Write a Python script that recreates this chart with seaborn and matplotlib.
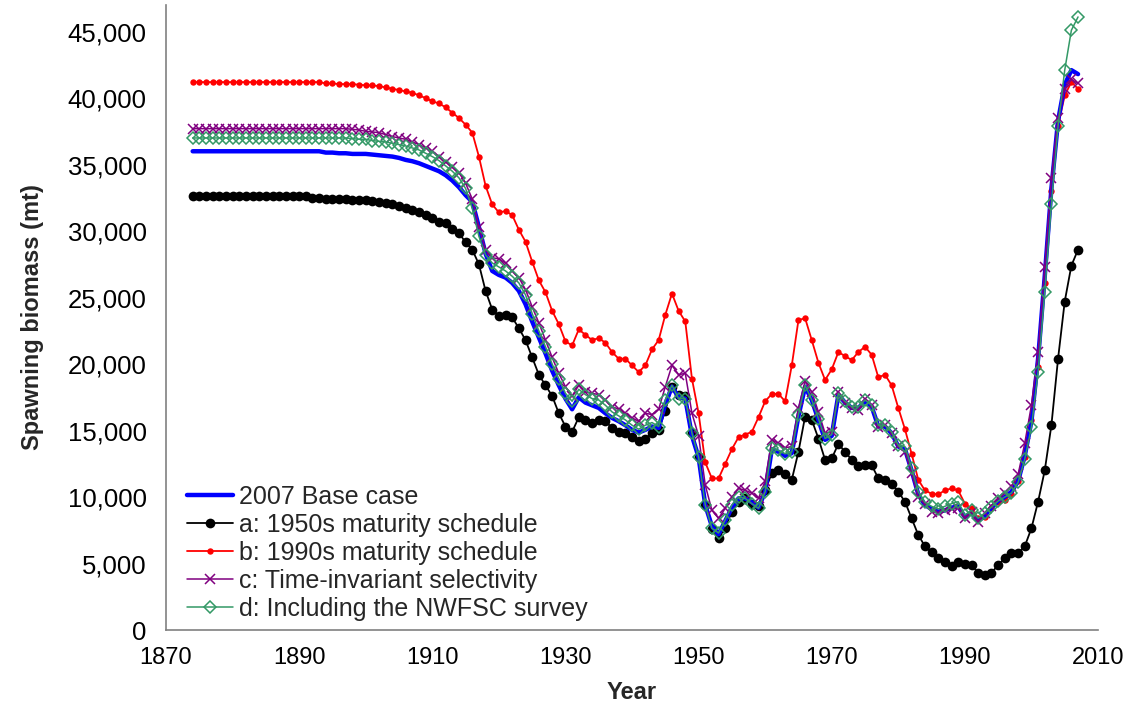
import matplotlib
matplotlib.use("Agg")
import matplotlib.pyplot as plt
import matplotlib.ticker as mticker
import seaborn as sns

# Spawning biomass by year, thousands of mt
years = list(range(1874, 2008))

base_case = (
    [36.0] * 20
    + [35.9, 35.9, 35.85, 35.85, 35.8, 35.8]
    + [35.8, 35.75, 35.7, 35.65, 35.6, 35.5, 35.35, 35.25, 35.1, 34.9,
       34.7, 34.5, 34.2, 33.8, 33.3, 32.7, 32.2, 30.3, 28.3, 27.0,
       26.7, 26.5, 26.1, 25.5, 24.5, 23.2, 22.0, 20.8, 19.5, 18.4,
       17.4, 16.6, 17.5, 17.1, 16.9, 16.7, 16.3, 15.95, 15.7, 15.4,
       15.05, 14.85, 15.05, 15.3, 15.2, 17.0, 18.3, 17.5, 17.4, 14.6,
       13.0, 9.4, 7.8, 7.2, 8.2, 9.2, 9.9, 9.9, 9.6, 9.2,
       10.4, 13.6, 13.4, 13.1, 13.3, 16.1, 18.3, 17.3, 15.8, 14.3,
       14.6, 17.7, 17.1, 16.7, 16.7, 17.2, 16.8, 15.3, 15.3, 14.8,
       13.8, 13.6, 12.0, 10.2, 9.4, 9.1, 8.9, 9.0, 9.2, 9.3,
       8.5, 8.8, 8.2, 8.6, 9.2, 9.7, 10.0, 10.4, 11.2, 13.1,
       15.7, 20.4, 26.6, 33.2, 38.3, 41.0, 42.1, 41.8]
)

mat_1950s = (
    [32.6] * 18
    + [32.45, 32.45, 32.4, 32.4, 32.4, 32.4, 32.35, 32.35]
    + [32.3, 32.25, 32.2, 32.1, 32.0, 31.9, 31.75, 31.6, 31.4, 31.2,
       31.0, 30.7, 30.6, 30.15, 29.85, 29.15, 28.6, 27.5, 25.5, 24.1,
       23.6, 23.7, 23.5, 22.7, 21.8, 20.5, 19.2, 18.4, 17.6, 16.3,
       15.3, 14.9, 16.0, 15.8, 15.6, 15.8, 15.7, 15.2, 14.9, 14.85,
       14.5, 14.2, 14.4, 14.8, 15.05, 16.5, 18.3, 17.7, 17.6, 14.8,
       13.0, 9.4, 7.6, 6.9, 7.7, 8.9, 9.65, 9.9, 9.5, 9.3,
       10.5, 11.8, 12.0, 11.7, 11.3, 13.4, 16.05, 15.8, 14.4, 12.8,
       12.9, 14.0, 13.4, 12.8, 12.3, 12.4, 12.4, 11.4, 11.3, 11.0,
       10.4, 9.65, 8.4, 7.15, 6.3, 5.85, 5.4, 5.1, 4.85, 5.15,
       5.0, 4.9, 4.3, 4.1, 4.3, 4.9, 5.4, 5.8, 5.8, 6.3,
       7.65, 9.65, 12.0, 15.4, 20.4, 24.7, 27.4, 28.6]
)

mat_1990s = (
    [41.2] * 20
    + [41.1, 41.1, 41.05, 41.05, 41.05, 41.0]
    + [40.96, 40.95, 40.9, 40.8, 40.7, 40.6, 40.5, 40.4, 40.2, 40.0,
       39.75, 39.6, 39.3, 38.9, 38.5, 38.0, 37.4, 35.6, 33.4, 32.0,
       31.4, 31.5, 31.2, 30.1, 29.2, 27.7, 26.3, 25.4, 24.0, 23.0,
       21.7, 21.4, 22.6, 22.2, 21.8, 21.95, 21.6, 20.9, 20.4, 20.4,
       19.9, 19.4, 19.9, 21.1, 21.8, 23.7, 25.3, 24.0, 23.2, 18.9,
       16.3, 12.6, 11.4, 11.4, 12.5, 13.6, 14.5, 14.7, 14.9, 16.0,
       17.2, 17.75, 17.75, 17.2, 19.9, 23.3, 23.45, 21.8, 20.1, 18.8,
       19.6, 20.9, 20.6, 20.3, 20.9, 21.3, 20.7, 19.0, 19.2, 18.4,
       16.7, 15.1, 13.25, 11.3, 10.5, 10.25, 10.2, 10.5, 10.65, 10.5,
       9.5, 9.15, 8.4, 8.5, 9.15, 9.65, 9.8, 10.2, 11.2, 13.0,
       15.8, 19.8, 26.1, 33.0, 37.9, 40.2, 41.2, 40.7]
)

time_invariant = (
    [37.7] * 24
    + [37.65, 37.6]
    + [37.5, 37.45, 37.4, 37.25, 37.1, 37.0, 36.9, 36.7, 36.5, 36.25,
       36.0, 35.6, 35.2, 34.8, 34.4, 33.6, 32.4, 30.3, 28.6, 28.0,
       27.9, 27.6, 27.0, 26.5, 25.6, 24.3, 23.1, 21.8, 20.5, 19.3,
       18.3, 17.6, 18.4, 17.9, 17.8, 17.7, 17.3, 16.8, 16.6, 16.3,
       15.95, 15.7, 16.3, 16.2, 16.6, 18.3, 19.9, 19.2, 19.3, 16.3,
       14.6, 10.9, 9.0, 8.4, 9.15, 10.0, 10.65, 10.5, 10.3, 9.9,
       11.2, 14.3, 14.05, 13.7, 13.8, 16.7, 18.7, 17.9, 16.4, 14.8,
       14.9, 17.9, 17.05, 16.7, 16.55, 17.4, 16.9, 15.3, 15.4, 14.8,
       13.8, 13.4, 11.8, 10.0, 9.5, 8.9, 8.8, 9.0, 9.1, 9.15,
       8.45, 8.85, 8.15, 8.8, 9.35, 9.9, 10.3, 10.8, 11.7, 14.05,
       16.9, 20.9, 27.3, 34.0, 38.5, 40.7, 41.4, 41.1]
)

with_nwfsc = (
    [37.0] * 24
    + [36.95, 36.9]
    + [36.9, 36.8, 36.75, 36.7, 36.6, 36.5, 36.4, 36.25, 36.1, 35.85,
       35.6, 35.3, 34.9, 34.5, 34.0, 33.2, 31.7, 29.6, 28.2, 27.6,
       27.3, 27.0, 26.6, 26.1, 25.2, 23.8, 22.5, 21.3, 20.0, 18.9,
       17.8, 17.2, 18.1, 17.7, 17.4, 17.3, 16.9, 16.4, 16.1, 15.8,
       15.4, 15.1, 15.4, 15.6, 15.3, 17.3, 18.4, 17.4, 17.4, 14.8,
       13.0, 9.4, 7.65, 7.3, 8.3, 9.4, 10.0, 9.9, 9.5, 9.15,
       10.4, 13.7, 13.5, 13.25, 13.4, 16.2, 18.4, 17.3, 15.9, 14.4,
       14.7, 17.8, 17.2, 16.8, 16.8, 17.3, 16.9, 15.4, 15.4, 14.9,
       13.9, 13.8, 12.2, 10.4, 9.6, 9.3, 9.1, 9.3, 9.5, 9.65,
       8.65, 9.0, 8.4, 8.8, 9.25, 9.7, 10.0, 10.3, 11.1, 12.85,
       15.25, 19.4, 25.4, 32.0, 37.9, 42.1, 45.1, 46.1]
)

series_labels = [
    "2007 Base case",
    "a: 1950s maturity schedule",
    "b: 1990s maturity schedule",
    "c: Time-invariant selectivity",
    "d: Including the NWFSC survey",
]
x_ticks = [1870, 1890, 1910, 1930, 1950, 1970, 1990, 2010]
y_ticks = [0, 5000, 10000, 15000, 20000, 25000, 30000, 35000, 40000, 45000]

sns.set_style("white")
plt.rcParams["font.family"] = ["Liberation Sans", "DejaVu Sans"]

fig = plt.figure(figsize=(11.35, 7.11), dpi=100)
ax = fig.add_axes([0.1463, 0.1139, 0.8211, 0.8791])

to_mt = lambda vals: [v * 1000 for v in vals]

styles = [
    (base_case, dict(color="#0000FF", linewidth=3.2, marker=None, zorder=3)),
    (mat_1950s, dict(color="black", linewidth=1.3, marker="o", markersize=7,
                     markeredgewidth=0, markeredgecolor="black", zorder=2)),
    (mat_1990s, dict(color="#FF0000", linewidth=1.3, marker="o", markersize=4.6,
                     markeredgewidth=0, markeredgecolor="#FF0000", zorder=2)),
    (time_invariant, dict(color="#800080", linewidth=1.1, marker="x", markersize=7.5,
                          markeredgewidth=1.1, markeredgecolor="#800080", zorder=4)),
    (with_nwfsc, dict(color="#339966", linewidth=1.1, marker="D", markersize=6.3,
                      markerfacecolor="none", markeredgewidth=1.1,
                      markeredgecolor="#339966", zorder=5)),
]

for (vals, kw), label in zip(styles, series_labels):
    sns.lineplot(x=years, y=to_mt(vals), ax=ax, label=label, **kw)

ax.set_xlim(1870, 2010)
ax.set_ylim(0, 47000)
ax.set_xticks(x_ticks)
ax.set_yticks(y_ticks)
ax.yaxis.set_major_formatter(mticker.StrMethodFormatter("{x:,.0f}"))
ax.tick_params(axis="both", direction="out", length=6, width=1,
               color="#808080", labelcolor="black")
ax.tick_params(axis="y", labelsize=18.5, pad=8)
ax.tick_params(axis="x", labelsize=17, pad=6)

for side in ("top", "right"):
    ax.spines[side].set_visible(False)
for side in ("left", "bottom"):
    ax.spines[side].set_color("#808080")
    ax.spines[side].set_linewidth(1.2)

ax.set_xlabel("Year", fontsize=17, fontweight="bold", labelpad=9)
ax.set_ylabel("Spawning biomass (mt)", fontsize=17, fontweight="bold", labelpad=17)

ax.legend(loc="upper left", bbox_to_anchor=(0.022, 0.232), frameon=False,
          fontsize=18, handlelength=1.85, handletextpad=0.25,
          labelspacing=0.16, borderaxespad=0, borderpad=0)

fig.savefig("out.png", dpi=100)
